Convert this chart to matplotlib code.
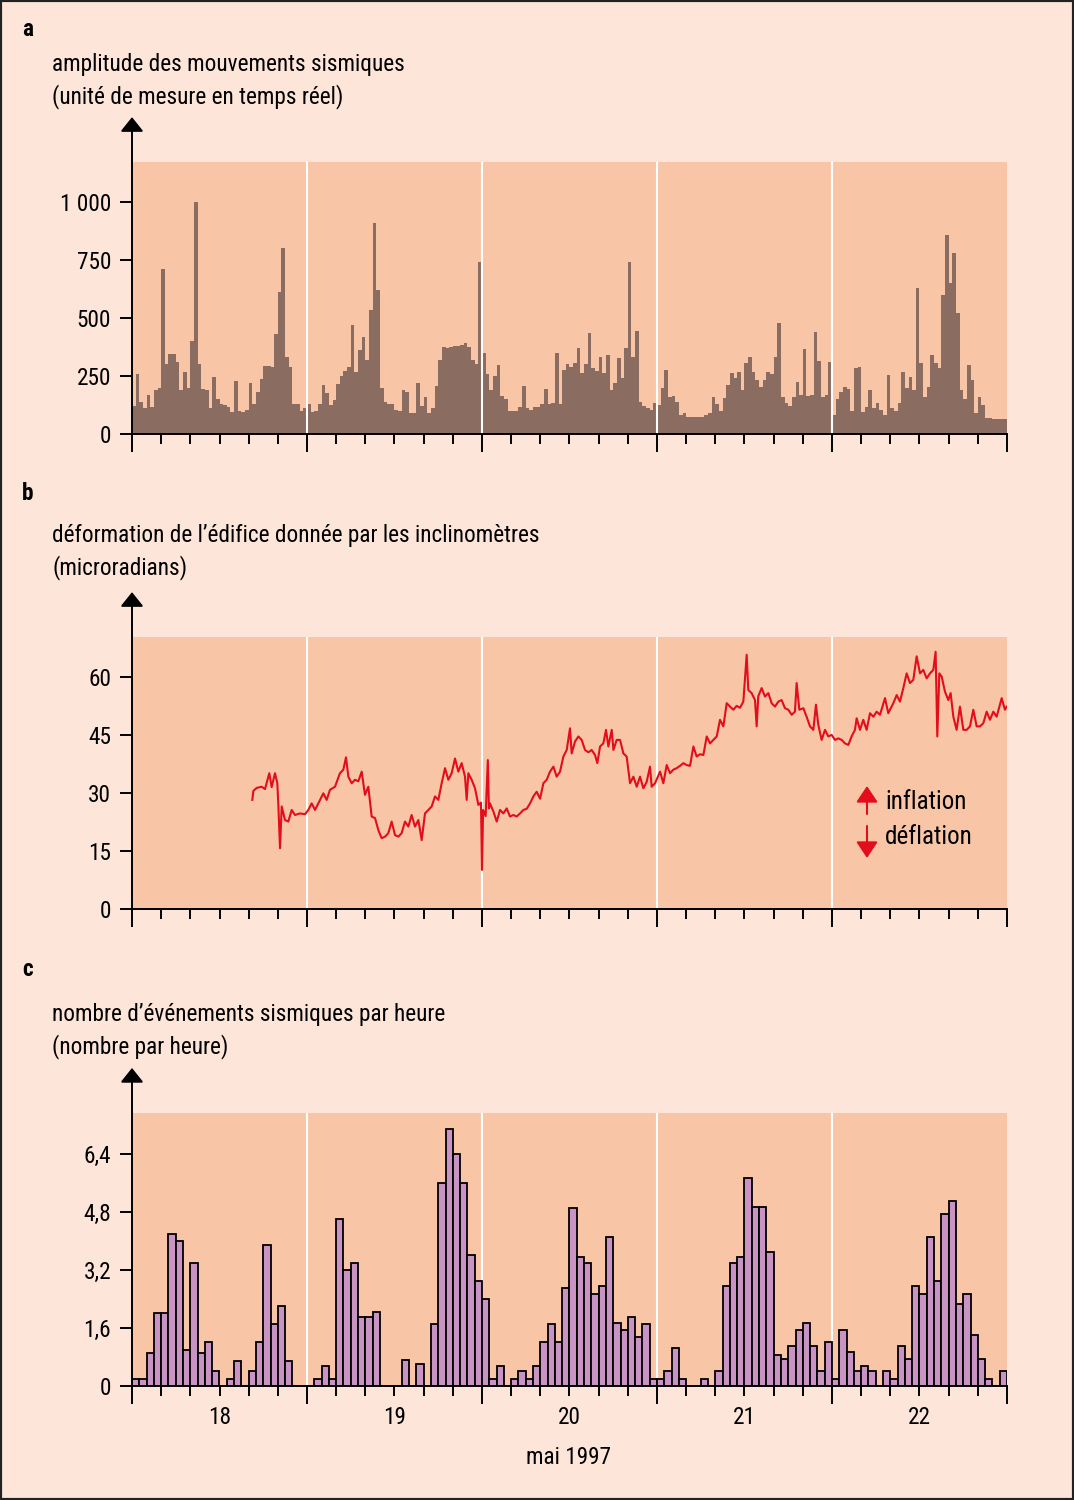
import numpy as np
import matplotlib
matplotlib.use("Agg")
import matplotlib.pyplot as plt
from matplotlib import font_manager
from matplotlib.transforms import blended_transform_factory
from matplotlib.patches import Rectangle, FancyArrowPatch

# ---------------- data ----------------
day_labels = ["18", "19", "20", "21", "22"]

# panel a: amplitude, half-hour resolution, one list per day
amp_18 = [120, 260, 140, 110, 170, 115, 190, 200, 710, 300, 345, 345, 310, 190, 265, 200,
          400, 1000, 300, 195, 190, 110, 245, 150, 130, 125, 115, 95, 230, 100, 95, 105,
          218, 130, 180, 235, 295, 295, 290, 430, 610, 800, 330, 290, 130, 130, 100, 110]
amp_19 = [130, 95, 100, 130, 210, 175, 125, 145, 215, 250, 270, 290, 470, 265, 360, 420,
          320, 535, 910, 620, 200, 140, 130, 130, 105, 100, 190, 180, 90, 90, 220, 120,
          160, 90, 110, 205, 320, 375, 370, 375, 380, 380, 385, 390, 375, 320, 300, 740]
amp_20 = [350, 260, 190, 250, 297, 164, 150, 100, 100, 100, 115, 207, 110, 105, 118, 118,
          130, 193, 130, 135, 348, 130, 276, 300, 290, 305, 370, 262, 300, 437, 283, 270,
          330, 262, 340, 190, 218, 326, 240, 370, 740, 333, 444, 140, 121, 110, 105, 135]
amp_21 = [125, 200, 276, 161, 165, 140, 82, 90, 75, 75, 75, 75, 75, 80, 90, 161,
          130, 100, 154, 210, 262, 240, 269, 190, 305, 333, 269, 233, 204, 233, 269, 260,
          330, 477, 161, 132, 120, 161, 226, 168, 365, 165, 168, 441, 316, 160, 170, 312]
amp_22 = [82, 150, 180, 204, 193, 100, 283, 290, 96, 118, 190, 110, 132, 103, 82, 254,
          110, 100, 132, 269, 200, 247, 190, 628, 305, 160, 204, 340, 305, 283, 600, 858,
          650, 778, 520, 190, 150, 297, 233, 92, 161, 125, 68, 68, 65, 65, 65, 65]

# panel b: tilt (microradians) vs hours since 18 May 00:00
tilt_hours = [16.5, 16.64, 17.1, 17.78, 18.24, 18.83, 19.15, 19.61, 19.93, 20.07, 20.3, 20.53,
              20.98, 21.44, 21.9, 22.35, 23.04, 23.73, 24.18, 24.64, 25.1, 25.55, 26.24, 26.7,
              27.15, 27.84, 28.52, 28.98, 29.35, 29.67, 30.13, 30.58, 31.04, 31.5, 31.95, 32.41,
              32.87, 33.33, 33.78, 34.24, 34.7, 35.15, 35.61, 36.07, 36.53, 36.98, 37.44, 37.9,
              38.35, 38.81, 39.27, 39.73, 40.18, 40.64, 41.1, 41.55, 42.01, 42.47, 42.93, 43.38,
              43.84, 44.3, 44.75, 45.21, 45.67, 45.9, 46.13, 46.58, 47.04, 47.5, 47.86, 48.0,
              48.15, 48.5, 48.8, 48.95, 49.1, 49.56, 50.02, 50.47, 50.93, 51.39, 51.84, 52.3,
              52.76, 53.22, 53.67, 54.13, 54.59, 55.04, 55.5, 55.96, 56.42, 56.87, 57.33, 57.79,
              58.24, 58.7, 59.16, 59.62, 60.07, 60.3, 60.76, 61.22, 61.67, 62.13, 62.59, 63.04,
              63.5, 63.82, 64.19, 64.64, 65.01, 65.33, 65.79, 66.02, 66.47, 66.93, 67.39, 67.84,
              68.3, 68.76, 69.22, 69.67, 70.13, 70.59, 71.04, 71.27, 71.73, 72.42, 72.87, 73.33,
              73.79, 74.24, 74.7, 75.16, 75.62, 76.07, 76.53, 76.99, 77.44, 77.9, 78.36, 78.82,
              79.27, 79.73, 80.19, 80.64, 81.1, 81.56, 82.02, 82.47, 82.93, 83.39, 83.84, 84.3,
              84.52, 84.98, 85.44, 85.67, 85.89, 86.35, 86.81, 87.27, 87.72, 88.18, 88.64, 89.09,
              89.55, 90.01, 90.47, 90.92, 91.15, 91.52, 92.07, 92.52, 92.98, 93.44, 93.8, 94.12,
              94.58, 95.04, 95.49, 95.95, 96.41, 96.87, 97.32, 97.78, 98.24, 98.69, 99.15, 99.38,
              99.84, 100.29, 100.75, 101.21, 101.67, 102.12, 102.58, 103.27, 103.72, 104.41, 104.87, 105.32,
              105.78, 106.24, 106.69, 107.15, 107.61, 108.07, 108.52, 108.98, 109.44, 109.89, 110.21, 110.44,
              110.72, 111.04, 111.49, 111.95, 112.27, 112.64, 113.09, 113.55, 114.01, 114.47, 114.92, 115.38,
              115.84, 116.29, 116.75, 117.21, 117.67, 118.12, 118.58, 119.27, 119.72, 119.95]
tilt_microrad = [28.2, 30.5, 31.3, 31.6, 31.0, 35.1, 31.5, 35.1, 32.5, 26.9, 15.7, 26.5,
                 23.0, 22.6, 25.6, 24.3, 24.7, 24.5, 25.6, 27.3, 25.6, 27.3, 29.9, 28.2,
                 30.8, 31.6, 35.1, 36.0, 39.2, 34.2, 32.5, 33.4, 33.0, 35.5, 29.5, 31.6,
                 23.9, 23.5, 20.4, 18.3, 18.7, 19.6, 22.6, 19.1, 18.7, 19.6, 22.6, 21.3,
                 24.3, 21.3, 23.0, 17.8, 24.7, 25.6, 26.5, 29.1, 28.2, 32.5, 36.4, 33.4,
                 35.1, 38.9, 35.5, 37.7, 34.2, 28.2, 35.1, 33.4, 31.2, 26.9, 27.5, 10.1,
                 25.6, 24.0, 38.5, 26.0, 27.3, 25.2, 22.6, 25.6, 24.7, 26.0, 23.9, 24.3,
                 23.9, 24.7, 25.6, 25.9, 27.3, 29.1, 30.3, 28.5, 32.5, 33.4, 35.5, 36.8,
                 34.2, 35.5, 39.4, 41.1, 46.7, 40.2, 43.3, 44.6, 43.7, 41.1, 40.5, 41.1,
                 39.8, 37.7, 42.0, 42.8, 46.3, 42.0, 46.3, 41.1, 43.7, 43.7, 40.2, 39.4,
                 32.5, 34.2, 31.6, 34.2, 31.2, 32.9, 36.8, 31.6, 32.5, 35.5, 32.5, 37.2,
                 35.1, 36.0, 36.4, 37.0, 37.7, 37.2, 37.0, 42.0, 39.4, 40.0, 39.8, 44.6,
                 42.8, 43.7, 44.6, 48.9, 47.2, 53.2, 52.3, 51.5, 52.5, 52.0, 53.6, 65.7,
                 56.6, 55.8, 54.0, 47.2, 55.0, 57.1, 54.9, 55.8, 53.2, 52.3, 53.6, 54.0,
                 51.9, 51.5, 50.2, 51.0, 58.4, 51.5, 51.9, 49.7, 47.2, 46.3, 52.8, 47.6,
                 43.7, 46.3, 44.6, 45.0, 43.7, 44.1, 43.7, 42.8, 42.4, 44.6, 46.3, 49.3,
                 46.3, 48.9, 46.3, 50.6, 49.7, 51.0, 50.2, 54.5, 50.6, 53.2, 55.3, 53.6,
                 57.1, 60.9, 58.4, 59.2, 65.3, 60.9, 61.8, 59.6, 60.9, 61.8, 66.5, 44.6,
                 60.9, 60.1, 56.2, 54.0, 55.8, 49.7, 46.3, 52.3, 46.3, 46.3, 47.2, 51.5,
                 47.2, 47.2, 48.0, 51.0, 48.9, 51.0, 49.7, 54.5, 51.5, 52.3]

# panel c: seismic events per hour, one list per day (24 hourly values)
events_18 = [0.2, 0.2, 0.9, 2.0, 2.0, 4.2, 4.0, 1.0, 3.4, 0.9, 1.2, 0.4,
             0, 0.2, 0.7, 0, 0.4, 1.2, 3.9, 1.7, 2.2, 0.7, 0, 0]
events_19 = [0, 0.2, 0.55, 0.2, 4.6, 3.2, 3.4, 1.9, 1.9, 2.05, 0, 0,
             0, 0.72, 0, 0.6, 0, 1.7, 5.6, 7.1, 6.4, 5.6, 3.6, 2.9]
events_20 = [2.4, 0.2, 0.55, 0, 0.2, 0.4, 0.2, 0.55, 1.2, 1.7, 1.2, 2.7,
             4.9, 3.55, 3.4, 2.55, 2.75, 4.1, 1.75, 1.55, 1.9, 1.35, 1.7, 0.2]
events_21 = [0.2, 0.4, 1.05, 0.2, 0, 0, 0.2, 0, 0.4, 2.75, 3.4, 3.55,
             5.75, 4.95, 4.95, 3.7, 0.85, 0.75, 1.1, 1.55, 1.75, 1.1, 0.4, 1.2]
events_22 = [0.2, 1.55, 0.95, 0.4, 0.55, 0.4, 0, 0.4, 0.2, 1.1, 0.75, 2.75,
             2.55, 4.1, 2.9, 4.75, 5.1, 2.25, 2.55, 1.4, 0.75, 0.2, 0, 0.4]

yticks_a = [0, 250, 500, 750, 1000]
ytick_labels_a = ["0", "250", "500", "750", "1 000"]
yticks_b = [0, 15, 30, 45, 60]
ytick_labels_b = ["0", "15", "30", "45", "60"]
yticks_c = [0, 1.6, 3.2, 4.8, 6.4]
ytick_labels_c = ["0", "1,6", "3,2", "4,8", "6,4"]

# ---------------- font: prefer a condensed face ----------------
fam, stretch = "DejaVu Sans", "normal"
ttf = font_manager.fontManager.ttflist
names = {f.name for f in ttf}
for cand in ["Liberation Sans Narrow", "Roboto Condensed", "Open Sans Condensed",
             "Noto Sans Condensed", "DejaVu Sans Condensed"]:
    if cand in names:
        fam, stretch = cand, "normal"
        break
else:
    for base in ["Roboto", "Open Sans", "Noto Sans", "DejaVu Sans"]:
        cond = [f for f in ttf if f.name == base and
                (str(f.stretch) in ("condensed", "semi-condensed", "extra-condensed")
                 or (isinstance(f.stretch, (int, float)) and f.stretch < 500))]
        if cond:
            fam, stretch = base, "condensed"
            break
plt.rcParams["font.family"] = [fam, "DejaVu Sans"]
plt.rcParams["font.stretch"] = stretch

BG = "#FDE6D9"
SHADE = "#F8C6A7"
AMP = "#8A6C60"
RED = "#E30D1B"
BAR = "#C994C4"
LW = 1.4

W, H = 1074, 1500
fig = plt.figure(figsize=(W / 100, H / 100), dpi=100, facecolor=BG)
renderer = fig.canvas.get_renderer()


def text_width(s, size):
    t = fig.text(0, 0, s, fontsize=size)
    w = t.get_window_extent(renderer).width
    t.remove()
    return w


# size chosen so the first label spans the same width as in the reference (349 px)
FS = min(18.0, 10.0 * 349.0 / text_width("amplitude des mouvements sismiques", 10))
FS_LEG = FS * 19.5 / 18.0


def rect(left, top, right, bottom):
    return [left / W, 1 - bottom / H, (right - left) / W, (bottom - top) / H]


def fx(x):
    return x / W


def fy(y):
    return 1 - y / H


axA = fig.add_axes(rect(132, 162, 1007, 434))
axB = fig.add_axes(rect(132, 637, 1007, 909))
axC = fig.add_axes(rect(132, 1113, 1007, 1386))

ylims = [1172, 70.3, 7.53]
for ax, ytop, yt, ytl in zip([axA, axB, axC], ylims,
                             [yticks_a, yticks_b, yticks_c],
                             [ytick_labels_a, ytick_labels_b, ytick_labels_c]):
    ax.set_facecolor(SHADE)
    ax.set_xlim(0, 120)
    ax.set_ylim(0, ytop)
    for s in ["top", "right", "left"]:
        ax.spines[s].set_visible(False)
    ax.spines["bottom"].set_linewidth(LW)
    ax.spines["bottom"].set_zorder(6)
    ax.set_yticks(yt)
    ax.set_yticklabels(ytl)
    ax.tick_params(axis="y", direction="out", length=9, width=LW, pad=6,
                   labelsize=FS, colors="black")
    ax.set_xticks(np.arange(0, 121, 24))
    ax.set_xticks(np.arange(0, 121, 4), minor=True)
    ax.tick_params(axis="x", which="major", direction="out", length=13, width=LW,
                   labelbottom=False)
    ax.tick_params(axis="x", which="minor", direction="out", length=7, width=LW)
    ax.annotate("", xy=(0, 1.165), xytext=(0, 0), xycoords="axes fraction",
                textcoords="axes fraction", annotation_clip=False,
                arrowprops=dict(arrowstyle="-|>,head_length=0.4,head_width=0.32",
                                mutation_scale=22, lw=LW, color="black",
                                shrinkA=0, shrinkB=0), zorder=7)

# panel a
amp_all = amp_18 + amp_19 + amp_20 + amp_21 + amp_22
edges = np.arange(len(amp_all) + 1) * 0.5
axA.stairs(amp_all, edges, fill=True, color=AMP, linewidth=0, zorder=2)
for d in range(1, 5):
    axA.axvline(24 * d, color="white", lw=1.5, zorder=3)

# panel b
for d in range(1, 5):
    axB.axvline(24 * d, color="white", lw=1.5, zorder=1)
axB.plot(tilt_hours, tilt_microrad, color=RED, lw=1.5, zorder=3)

# panel c
events_all = events_18 + events_19 + events_20 + events_21 + events_22
for d in range(1, 5):
    axC.axvline(24 * d, color="white", lw=1.5, zorder=1)
axC.bar(np.arange(len(events_all)), events_all, width=1.0, align="edge",
        color=BAR, edgecolor="black", linewidth=1.3, zorder=3)
trans = blended_transform_factory(axC.transData, fig.transFigure)
for i, lab in enumerate(day_labels):
    axC.text(12 + 24 * i, fy(1418), lab, transform=trans, ha="center", va="center",
             fontsize=FS)
fig.text(fx(569), fy(1457), "mai 1997", ha="center", va="center", fontsize=FS)

# titles
fig.text(fx(22), fy(30), "a", ha="left", va="center", fontsize=FS, fontweight="bold")
fig.text(fx(52), fy(65), "amplitude des mouvements sismiques", ha="left", va="center", fontsize=FS)
fig.text(fx(52), fy(97), "(unité de mesure en temps réel)", ha="left", va="center", fontsize=FS)

fig.text(fx(22), fy(493), "b", ha="left", va="center", fontsize=FS, fontweight="bold")
fig.text(fx(52), fy(536), "déformation de l’édifice donnée par les inclinomètres",
         ha="left", va="center", fontsize=FS)
fig.text(fx(52), fy(568), "(microradians)", ha="left", va="center", fontsize=FS)

fig.text(fx(22), fy(970), "c", ha="left", va="center", fontsize=FS, fontweight="bold")
fig.text(fx(52), fy(1015), "nombre d’événements sismiques par heure", ha="left", va="center",
         fontsize=FS)
fig.text(fx(52), fy(1047), "(nombre par heure)", ha="left", va="center", fontsize=FS)

# inflation / deflation legend
fig.add_artist(FancyArrowPatch(
    (fx(867), fy(814)), (fx(867), fy(786)), transform=fig.transFigure,
    arrowstyle="-|>,head_length=0.45,head_width=0.3", mutation_scale=22,
    color=RED, lw=1.5, shrinkA=0, shrinkB=0))
fig.add_artist(FancyArrowPatch(
    (fx(867), fy(826)), (fx(867), fy(858)), transform=fig.transFigure,
    arrowstyle="-|>,head_length=0.45,head_width=0.3", mutation_scale=22,
    color=RED, lw=1.5, shrinkA=0, shrinkB=0))
fig.text(fx(885), fy(802), "inflation", ha="left", va="center", fontsize=FS_LEG)
fig.text(fx(885), fy(837), "déflation", ha="left", va="center", fontsize=FS_LEG)

# frame around the figure
fig.add_artist(Rectangle((0, 0), 1, 1, transform=fig.transFigure, fill=False,
                         edgecolor="#222222", lw=3, zorder=10))

fig.savefig("out.png", dpi=100, facecolor=BG)
